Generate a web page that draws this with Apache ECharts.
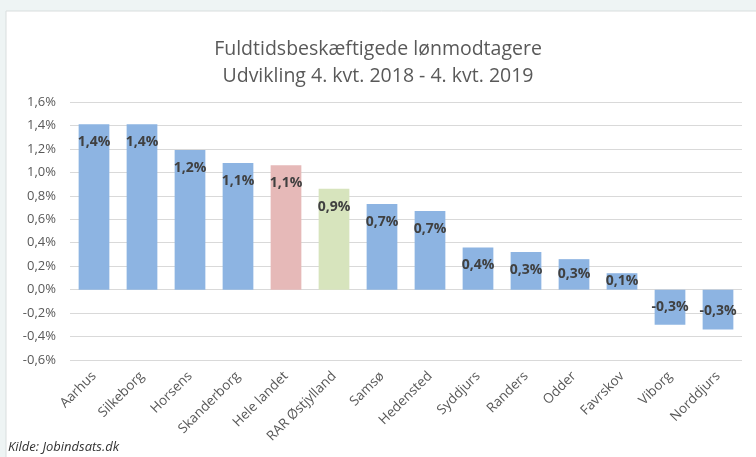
<!DOCTYPE html>
<html>
<head>
<meta charset="utf-8">
<script src="https://cdn.jsdelivr.net/npm/echarts@6/dist/echarts.min.js"></script>
<style>
html,body{margin:0;padding:0;background:#eef4f4;}
#c{width:756px;height:457px;}
</style>
</head>
<body>
<div id="c"></div>
<script>
const categories = ["Aarhus","Silkeborg","Horsens","Skanderborg","Hele landet","RAR Østjylland","Samsø","Hedensted","Syddjurs","Randers","Odder","Favrskov","Viborg","Norddjurs"];
const values = [1.41, 1.41, 1.19, 1.08, 1.06, 0.86, 0.73, 0.67, 0.36, 0.32, 0.26, 0.14, -0.30, -0.34];
const barColors = ["#8db4e2","#8db4e2","#8db4e2","#8db4e2","#e6b9b8","#d7e4bd","#8db4e2","#8db4e2","#8db4e2","#8db4e2","#8db4e2","#8db4e2","#8db4e2","#8db4e2"];
const titleLines = ["Fuldtidsbeskæftigede lønmodtagere", "Udvikling 4. kvt. 2018 - 4. kvt. 2019"];
const sourceText = "Kilde: Jobindsats.dk";
const yMin = -0.6, yMax = 1.6, yStep = 0.2;

const fmt = v => v.toFixed(1).replace('.', ',') + '%';

const chart = echarts.init(document.getElementById('c'), null, {renderer: 'canvas'});
chart.setOption({
  backgroundColor: '#eef4f4',
  animation: false,
  graphic: [
    {type: 'rect', shape: {x: 6, y: 11, width: 760, height: 460}, style: {fill: '#ffffff', stroke: '#d9dede', lineWidth: 1}, z: -10},
    {type: 'text', left: 8, top: 441, style: {text: sourceText, font: 'italic 13px "Open Sans"', fill: '#333333'}}
  ],
  title: {
    text: titleLines.join('\n'),
    left: 'center',
    top: 31,
    textStyle: {fontFamily: 'Open Sans', fontSize: 19.5, fontWeight: 'normal', color: '#595959', lineHeight: 27}
  },
  grid: {left: 70, right: 14, top: 102, bottom: 97, containLabel: false},
  xAxis: {
    type: 'category',
    data: categories,
    axisLine: {show: false},
    axisTick: {show: false},
    axisLabel: {rotate: 45, interval: 0, margin: 14, fontFamily: 'Open Sans', fontSize: 13.5, color: '#595959'}
  },
  yAxis: {
    type: 'value',
    min: yMin, max: yMax, interval: yStep,
    axisLine: {show: false},
    axisTick: {show: false},
    splitLine: {lineStyle: {color: '#d9d9d9', width: 1}},
    axisLabel: {fontFamily: 'Open Sans', fontSize: 13, color: '#595959', margin: 14,
      formatter: v => fmt(v)}
  },
  series: [{
    type: 'bar',
    barWidth: '64%',
    data: values.map((v, i) => ({
      value: v,
      itemStyle: {color: barColors[i]},
      label: {position: Math.abs(v) < 0.3 ? 'inside' : (v < 0 ? 'insideBottom' : 'insideTop'), distance: 11}
    })),
    label: {
      show: true,
      formatter: p => fmt(p.value),
      fontFamily: 'Open Sans', fontSize: 14, fontWeight: 'bold', color: '#404040'
    }
  }]
});
</script>
</body>
</html>
